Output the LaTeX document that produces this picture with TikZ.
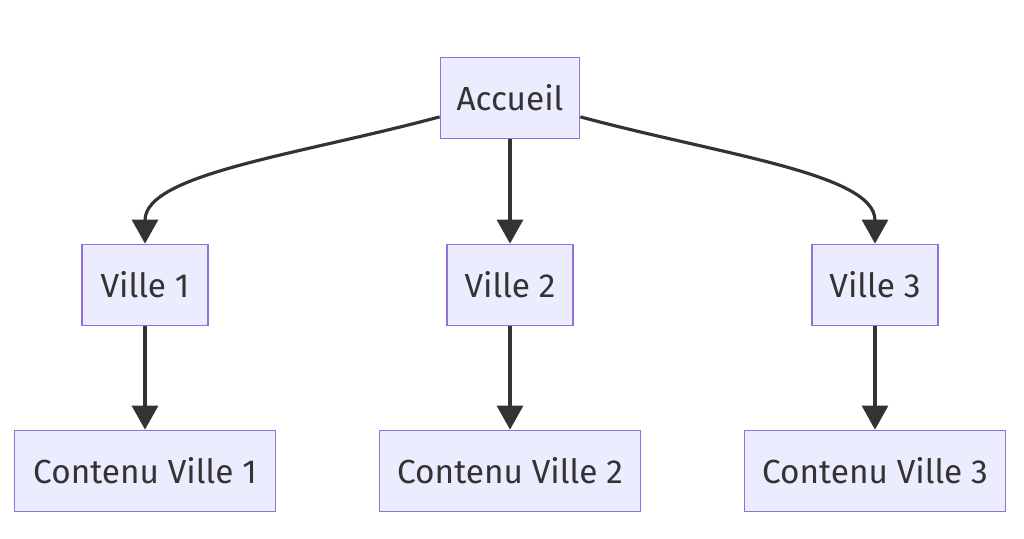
\documentclass[tikz,border=0pt]{standalone}
\usepackage{fontspec}
\setmainfont{Fira Sans}
\usepackage{tikz}
\usetikzlibrary{positioning,arrows.meta}

\definecolor{boxfill}{HTML}{ECECFF}
\definecolor{boxline}{HTML}{9370DB}
\definecolor{inkgrey}{HTML}{333333}

\begin{document}
\begin{tikzpicture}[x=0.02cm,y=0.02cm]
	\useasboundingbox (0,0) rectangle (1024,538);
	\begin{scope}[every node/.style={rectangle,draw=boxline,fill=boxfill,line width=1pt,
	              text=inkgrey,font=\fontsize{19}{22}\selectfont,minimum height=1.62cm,inner sep=0pt}]
		\node[minimum width=2.78cm] (A) at (510,440) {Accueil};
		\node[minimum width=2.52cm] (V1) at (145,253) {Ville 1};
		\node[minimum width=2.52cm] (V2) at (510,253) {Ville 2};
		\node[minimum width=2.52cm] (V3) at (875,253) {Ville 3};
		\node[minimum width=5.22cm] (C1) at (145,67) {Contenu Ville 1};
		\node[minimum width=5.22cm] (C2) at (510,67) {Contenu Ville 2};
		\node[minimum width=5.22cm] (C3) at (875,67) {Contenu Ville 3};
	\end{scope}
	\begin{scope}[>={Triangle[length=0.48cm,width=0.52cm,inkgrey]},
	              every edge/.style={draw=inkgrey,line width=1.8pt}]
		\draw [->,inkgrey,line width=1.8pt] (A.195) .. controls +(-141,-38) and +(0,70) .. (V1.north);
		\path [->] (A) edge (V2);
		\draw [->,inkgrey,line width=1.8pt] (A.-15) .. controls +(141,-38) and +(0,70) .. (V3.north);
		\path [->] (V1) edge (C1);
		\path [->] (V2) edge (C2);
		\path [->] (V3) edge (C3);
	\end{scope}
\end{tikzpicture}
\end{document}
